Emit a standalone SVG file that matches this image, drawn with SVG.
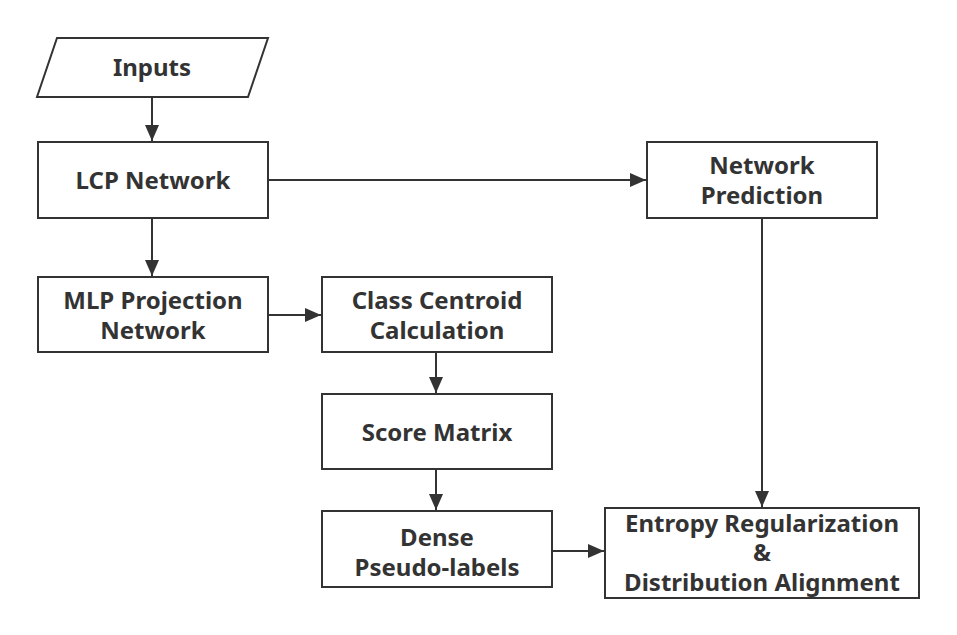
<svg xmlns="http://www.w3.org/2000/svg" width="957" height="635" viewBox="0 0 957 635">
<style>
.box{fill:#fff;stroke:#333;stroke-width:2}
.t{font-family:"Noto Sans","Open Sans",sans-serif;font-weight:bold;font-size:24px;fill:#333;text-anchor:middle}
.c{fill:none;stroke:#333;stroke-width:2}
</style>
<defs>
<marker id="a" viewBox="0 0 16 14" refX="16" refY="7" markerWidth="16" markerHeight="14" markerUnits="userSpaceOnUse" orient="auto">
<path d="M0,0 L16,7 L0,14 Z" fill="#333"/>
</marker>
</defs>
<rect width="957" height="635" fill="#fff"/>
<g id="connectors">
<line class="c" x1="152" y1="97" x2="152" y2="141" marker-end="url(#a)"/>
<line class="c" x1="152" y1="218" x2="152" y2="276" marker-end="url(#a)"/>
<line class="c" x1="268" y1="180" x2="646" y2="180" marker-end="url(#a)"/>
<line class="c" x1="268" y1="315" x2="321" y2="315" marker-end="url(#a)"/>
<line class="c" x1="436" y1="352" x2="436" y2="393" marker-end="url(#a)"/>
<line class="c" x1="436" y1="469" x2="436" y2="510" marker-end="url(#a)"/>
<line class="c" x1="762" y1="218" x2="762" y2="507" marker-end="url(#a)"/>
<line class="c" x1="552" y1="551" x2="604" y2="551" marker-end="url(#a)"/>
</g>
<g id="inputs">
<polygon class="box" points="57,38 268,38 248,97 37,97"/>
<text class="t" x="152" y="76">Inputs</text>
</g>
<g id="lcp">
<rect class="box" x="38" y="142" width="230" height="76"/>
<text class="t" x="153" y="189">LCP Network</text>
</g>
<g id="netpred">
<rect class="box" x="647" y="142" width="230" height="76"/>
<text class="t" x="762" y="174">Network</text>
<text class="t" x="762" y="204">Prediction</text>
</g>
<g id="mlp">
<rect class="box" x="38" y="277" width="230" height="75"/>
<text class="t" x="153" y="309">MLP Projection</text>
<text class="t" x="153" y="339">Network</text>
</g>
<g id="centroid">
<rect class="box" x="322" y="277" width="230" height="75"/>
<text class="t" x="437" y="309">Class Centroid</text>
<text class="t" x="437" y="339">Calculation</text>
</g>
<g id="score">
<rect class="box" x="322" y="394" width="230" height="75"/>
<text class="t" x="437" y="441">Score Matrix</text>
</g>
<g id="dense">
<rect class="box" x="322" y="511" width="230" height="76"/>
<text class="t" x="437" y="546">Dense</text>
<text class="t" x="437" y="576">Pseudo-labels</text>
</g>
<g id="entropy">
<rect class="box" x="605" y="508" width="314" height="90"/>
<text class="t" x="762" y="532">Entropy Regularization</text>
<text class="t" x="762" y="561">&amp;</text>
<text class="t" x="762" y="591">Distribution Alignment</text>
</g>
</svg>
